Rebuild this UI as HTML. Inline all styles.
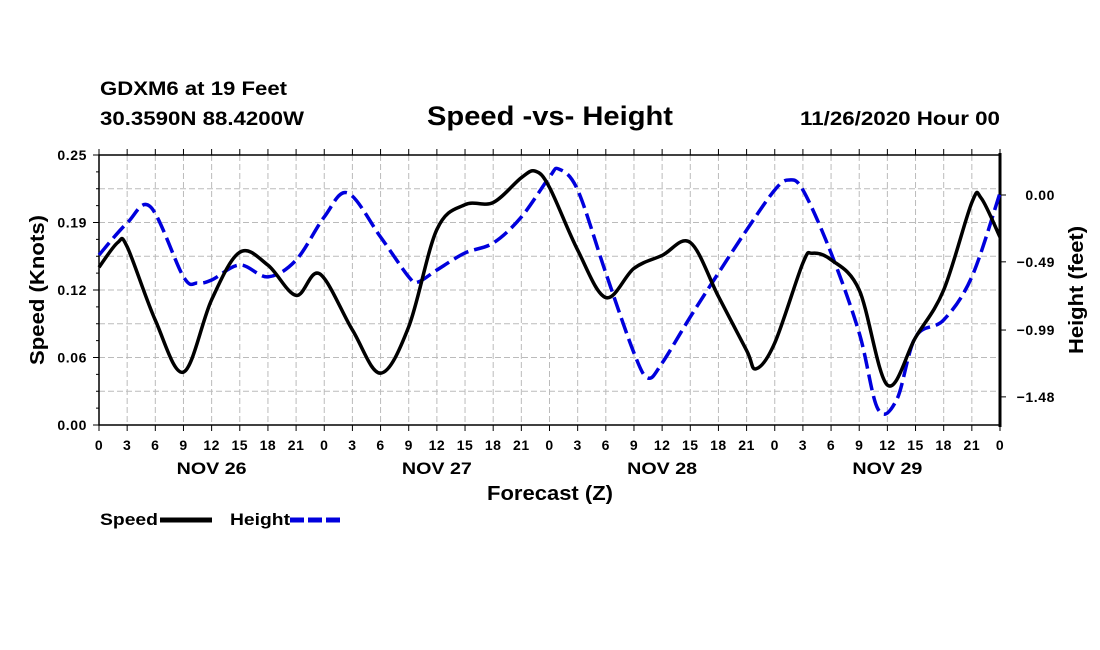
<!DOCTYPE html>
<html><head><meta charset="utf-8"><style>
html,body{margin:0;padding:0;background:#fff;width:1100px;height:650px;overflow:hidden}
svg{display:block;font-family:"Liberation Sans",sans-serif;font-weight:bold}
</style></head><body>
<svg id="chart" width="1100" height="650" viewBox="0 0 1100 650" xmlns="http://www.w3.org/2000/svg">
<text x="100" y="95" font-size="19" textLength="187" lengthAdjust="spacingAndGlyphs">GDXM6 at 19 Feet</text>
<text x="100" y="125" font-size="19" textLength="204" lengthAdjust="spacingAndGlyphs">30.3590N 88.4200W</text>
<text x="427" y="125" font-size="27" textLength="246" lengthAdjust="spacingAndGlyphs">Speed -vs- Height</text>
<text x="800" y="125" font-size="19" textLength="200" lengthAdjust="spacingAndGlyphs">11/26/2020 Hour 00</text>
<text transform="translate(44,290) rotate(-90)" font-size="20" text-anchor="middle" textLength="150" lengthAdjust="spacingAndGlyphs">Speed (Knots)</text>
<text transform="translate(1083,290) rotate(-90)" font-size="20" text-anchor="middle" textLength="128" lengthAdjust="spacingAndGlyphs">Height (feet)</text>
<text x="487" y="500" font-size="20" textLength="126" lengthAdjust="spacingAndGlyphs">Forecast (Z)</text>
<g id="grid"></g>
<g id="axes"></g>
<g id="series"></g>
<g>
<text x="100" y="525" font-size="17" textLength="58" lengthAdjust="spacingAndGlyphs">Speed</text>
<line x1="160" y1="520" x2="212" y2="520" stroke="#000" stroke-width="5"/>
<text x="230" y="525" font-size="17" textLength="60" lengthAdjust="spacingAndGlyphs">Height</text>
<line x1="290" y1="520" x2="342" y2="520" stroke="#0000dd" stroke-width="5" stroke-dasharray="14,4"/>
</g>
</svg>
<script>
const speedHours=[0,2,3,6,9,12,15,18,21,23.5,27,30,33,36,39,42,45,46.5,48,51,54,57,60,63,66,69,70,72,75,76,78,81,84,87,90,93,94,96];
const speedValues=[0.146,0.169,0.165,0.097,0.049,0.116,0.160,0.148,0.120,0.140,0.088,0.048,0.091,0.181,0.204,0.206,0.229,0.235,0.220,0.162,0.118,0.145,0.157,0.169,0.119,0.069,0.052,0.076,0.150,0.159,0.153,0.125,0.037,0.081,0.125,0.206,0.210,0.174];
const heightHours=[0,3,5.5,9,10.5,12,15,18,21,24,26.5,30,33,34,36,39,42,45,48,49,51,54,57,58.5,60,63,66,69,72,73.5,75,78,81,83,85,87,90,93,96];
const heightValues=[-0.44,-0.205,-0.088,-0.60,-0.645,-0.623,-0.513,-0.60,-0.477,-0.161,0.015,-0.308,-0.60,-0.638,-0.55,-0.425,-0.352,-0.161,0.132,0.19,0.037,-0.572,-1.158,-1.342,-1.232,-0.894,-0.572,-0.257,0.037,0.11,0.037,-0.425,-1.012,-1.57,-1.50,-1.041,-0.916,-0.60,0.015];
const speedTicks=["0.00","0.06","0.12","0.19","0.25"];
const heightTicks=[0.00,-0.49,-0.99,-1.48];
const hourTickLabels=["0","3","6","9","12","15","18","21"];
const dayLabels=["NOV 26","NOV 27","NOV 28","NOV 29"];

const X0=99,X1=1000,Y0=425,Y1=155;
const xs=h=>X0+(X1-X0)*h/96;
const ySpeed=v=>Y0-(Y0-Y1)*v/0.25;
const yHeight=f=>195-f*136.4;
const NS="http://www.w3.org/2000/svg";
function mk(tag,parent,attrs){const e=document.createElementNS(NS,tag);for(const k in attrs)e.setAttribute(k,attrs[k]);parent.appendChild(e);return e;}
const grid=document.getElementById('grid'),axes=document.getElementById('axes'),series=document.getElementById('series');
for(let i=1;i<8;i++){const y=Y0-(Y0-Y1)*i/8;
 const l=mk('line',grid,{x1:X0,x2:X1,y1:y,y2:y,stroke:'#bbb','stroke-width':1,'stroke-dasharray':'6,3'});
 
 }
for(let h=3;h<96;h+=3){const x=xs(h);
 const l=mk('line',grid,{x1:x,x2:x,y1:Y1,y2:Y0,stroke:'#bbb','stroke-width':1,'stroke-dasharray':'6,3'});
 
 }
mk('rect',axes,{x:X0,y:Y1,width:X1-X0,height:Y0-Y1,fill:'none',stroke:'#000','stroke-width':1.5});
mk('line',axes,{x1:X1,x2:X1,y1:Y1-2,y2:Y0+2,stroke:'#000','stroke-width':3});
for(let i=0;i<=16;i++){const y=Y0-(Y0-Y1)*i/16;mk('line',axes,{x1:X0-(i%4?3:6),x2:X0,y1:y,y2:y,stroke:'#000','stroke-width':1});}
speedTicks.forEach((t,i)=>{const y=Y0-(Y0-Y1)*i/4;
 const e=mk('text',axes,{x:X0-12,y:y+5,'font-size':14,'text-anchor':'end','letter-spacing':'0.6'});e.textContent=t;
 
 });
heightTicks.forEach(f=>{const y=yHeight(f);
 mk('line',axes,{x1:X1,x2:X1+6,y1:y,y2:y,stroke:'#000','stroke-width':1});
 const e=mk('text',axes,{x:X1+55,y:y+5,'font-size':14,'text-anchor':'end','letter-spacing':'0.6'});e.textContent=f===0?'0.00':f.toFixed(2).replace('-','\u2212');
 
 });
for(let h=0;h<=96;h+=3){const x=xs(h);
 mk('line',axes,{x1:x,x2:x,y1:Y0,y2:Y0+6,stroke:'#000','stroke-width':1});
 mk('line',axes,{x1:x,x2:x,y1:Y1,y2:Y1-6,stroke:'#000','stroke-width':1});
 const e=mk('text',axes,{x:x,y:450,'font-size':14,'text-anchor':'middle','letter-spacing':'0.5'});e.textContent=hourTickLabels[(h/3)%8];
 
 }
dayLabels.forEach((d,i)=>{const e=mk('text',axes,{x:xs(12+24*i)-35,y:474,'font-size':17,textLength:70,lengthAdjust:'spacingAndGlyphs'});e.textContent=d;
 
 });
function path(hs,vs,fy){const p=hs.map((h,i)=>[xs(h),fy(vs[i])]);let d='M'+p[0][0]+','+p[0][1];
 for(let i=0;i<p.length-1;i++){const a=p[Math.max(0,i-1)],b=p[i],c=p[i+1],e=p[Math.min(p.length-1,i+2)];
  const t=6;d+=' C'+(b[0]+(c[0]-a[0])/t)+','+(b[1]+(c[1]-a[1])/t)+' '+(c[0]-(e[0]-b[0])/t)+','+(c[1]-(e[1]-b[1])/t)+' '+c[0]+','+c[1];}
 return d;}
const hp=mk('path',series,{d:path(heightHours,heightValues,yHeight),fill:'none',stroke:'#0000dd','stroke-width':3.5,'stroke-dasharray':'16,6'});


const sp=mk('path',series,{d:path(speedHours,speedValues,ySpeed),fill:'none',stroke:'#000','stroke-width':3.5});


</script>
</body></html>
